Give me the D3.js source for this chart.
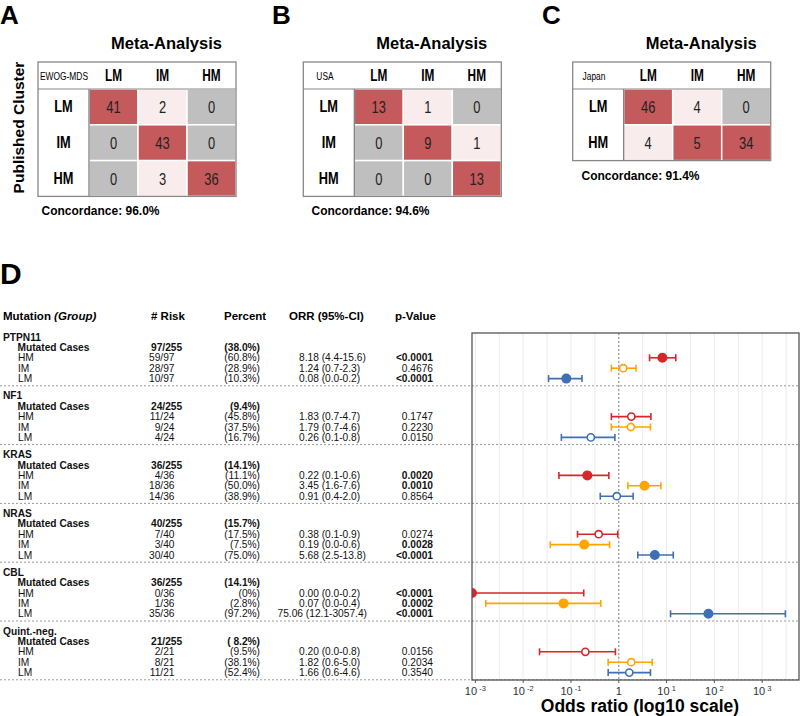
<!DOCTYPE html>
<html>
<head>
<meta charset="utf-8">
<script src="https://cdn.jsdelivr.net/npm/d3@7"></script>
<style>
  html, body { margin: 0; padding: 0; background: #fff; }
  svg { display: block; font-family: "Liberation Sans", Arial, sans-serif; }
</style>
</head>
<body>
<div id="chart"></div>
<script>
// ---- panels A-C : concordance matrices ----
const panelLetters = ['A', 'B', 'C'];
const cohorts = ['EWOG-MDS', 'USA', 'Japan'];
const metaCols = ['LM', 'IM', 'HM'];
const rowsA = ['LM', 'IM', 'HM'];
const countsA = [[41, 2, 0], [0, 43, 0], [0, 3, 36]];
const rowsB = ['LM', 'IM', 'HM'];
const countsB = [[13, 1, 0], [0, 9, 1], [0, 0, 13]];
const rowsC = ['LM', 'HM'];
const countsC = [[46, 4, 0], [4, 5, 34]];
const concordance = ['96.0%', '94.6%', '91.4%'];

// ---- panel D : forest plot table ----
const genes = ['PTPN11', 'NF1', 'KRAS', 'NRAS', 'CBL', 'Quint.-neg.'];
const mutatedRisk = ['97/255', '24/255', '36/255', '40/255', '36/255', '21/255'];
const mutatedPct = ['(38.0%)', '(9.4%)', '(14.1%)', '(15.7%)', '(14.1%)', '( 8.2%)'];
const groups = ['HM', 'IM', 'LM'];
const risk = [
  ['59/97', '28/97', '10/97'],
  ['11/24', '9/24', '4/24'],
  ['4/36', '18/36', '14/36'],
  ['7/40', '3/40', '30/40'],
  ['0/36', '1/36', '35/36'],
  ['2/21', '8/21', '11/21']
];
const pct = [
  ['(60.8%)', '(28.9%)', '(10.3%)'],
  ['(45.8%)', '(37.5%)', '(16.7%)'],
  ['(11.1%)', '(50.0%)', '(38.9%)'],
  ['(17.5%)', '(7.5%)', '(75.0%)'],
  ['(0%)', '(2.8%)', '(97.2%)'],
  ['(9.5%)', '(38.1%)', '(52.4%)']
];
const orrText = [
  ['8.18 (4.4-15.6)', '1.24 (0.7-2.3)', '0.08 (0.0-0.2)'],
  ['1.83 (0.7-4.7)', '1.79 (0.7-4.6)', '0.26 (0.1-0.8)'],
  ['0.22 (0.1-0.6)', '3.45 (1.6-7.6)', '0.91 (0.4-2.0)'],
  ['0.38 (0.1-0.9)', '0.19 (0.0-0.6)', '5.68 (2.5-13.8)'],
  ['0.00 (0.0-0.2)', '0.07 (0.0-0.4)', '75.06 (12.1-3057.4)'],
  ['0.20 (0.0-0.8)', '1.82 (0.6-5.0)', '1.66 (0.6-4.6)']
];
const pText = [
  ['<0.0001', '0.4676', '<0.0001'],
  ['0.1747', '0.2230', '0.0150'],
  ['0.0020', '0.0010', '0.8564'],
  ['0.0274', '0.0028', '<0.0001'],
  ['<0.0001', '0.0002', '<0.0001'],
  ['0.0156', '0.2034', '0.3540']
];
const pBold = [
  [true, false, true],
  [false, false, false],
  [true, true, false],
  [false, true, true],
  [true, true, true],
  [false, false, false]
];
// odds ratio and CI bounds as drawn
const orVal = [
  [8.18, 1.24, 0.08],
  [1.83, 1.79, 0.26],
  [0.22, 3.45, 0.91],
  [0.38, 0.19, 5.68],
  [0, 0.07, 75.06],
  [0.20, 1.82, 1.66]
];
const ciLo = [
  [4.4, 0.7, 0.034],
  [0.7, 0.7, 0.063],
  [0.056, 1.55, 0.41],
  [0.137, 0.037, 2.5],
  [0, 0.00165, 12.1],
  [0.022, 0.6, 0.6]
];
const ciHi = [
  [15.6, 2.3, 0.17],
  [4.7, 4.6, 0.83],
  [0.62, 7.6, 2.0],
  [0.95, 0.64, 13.8],
  [0.185, 0.42, 3057.4],
  [0.85, 5.0, 4.6]
];
const axisExp = [-3, -2, -1, 0, 1, 2, 3];

const width = 800, height = 716;
const svg = d3.select('#chart').append('svg')
  .attr('width', width).attr('height', height);

const RED = '#c45a5b', PINK = '#f8ecec', GRAY = '#bfbfbf';
const cellColor = d3.scaleThreshold().domain([1, 5]).range([GRAY, PINK, RED]);

// condensed text (no narrow font installed, so squeeze horizontally)
function narrow(sel, x, y, txt, size, weight, squeeze) {
  return sel.append('text')
    .attr('transform', `translate(${x},${y}) scale(${squeeze},1)`)
    .attr('text-anchor', 'middle')
    .attr('font-size', size)
    .attr('font-weight', weight)
    .text(txt);
}

// layout of the three matrices
const panelX = [38, 303.3, 572.7];
const letterX = [0, 272, 542];
const concX = [41.5, 311.5, 581.5];
const cohortX = [64, 325, 594];
const matrixRows = [rowsA, rowsB, rowsC];
const matrixCounts = [countsA, countsB, countsC];
const labelW = 51, cellW = 49, headerH = 27, rowH = 35.8, matTop = 62;

panelLetters.forEach((L, p) => {
  const x0 = panelX[p];
  const rows = matrixRows[p];
  const counts = matrixCounts[p];
  const g = svg.append('g');

  g.append('text').attr('x', letterX[p]).attr('y', 24)
    .attr('font-size', 26).attr('font-weight', 'bold').text(L);

  const xs = d3.scaleBand().domain(metaCols)
    .range([x0 + labelW, x0 + labelW + 3 * cellW]);
  const ys = d3.scaleBand().domain(rows)
    .range([matTop + headerH, matTop + headerH + rows.length * rowH]);
  const bottom = matTop + headerH + rows.length * rowH;

  g.append('text').attr('x', xs.range()[0] + 1.5 * cellW + 4).attr('y', 48.5)
    .attr('text-anchor', 'middle').attr('font-size', 16.5).attr('font-weight', 'bold')
    .text('Meta-Analysis');

  // cells
  rows.forEach((r, i) => {
    metaCols.forEach((c, j) => {
      const v = counts[i][j];
      g.append('rect').attr('x', xs(c)).attr('y', ys(r))
        .attr('width', xs.bandwidth()).attr('height', ys.bandwidth())
        .attr('fill', cellColor(v)).attr('stroke', '#fff').attr('stroke-width', 1.5);
      narrow(g, xs(c) + xs.bandwidth() / 2, ys(r) + ys.bandwidth() / 2 + 6, v, 17, 'normal', 0.76)
        .attr('fill', '#222');
    });
    narrow(g, x0 + labelW / 2, ys(r) + ys.bandwidth() / 2 + 5.5, r, 16, 'bold', 0.8);
  });

  // header
  metaCols.forEach(c => {
    narrow(g, xs(c) + xs.bandwidth() / 2, matTop + headerH / 2 + 5.5, c, 16, 'bold', 0.74);
  });
  narrow(g, cohortX[p], matTop + headerH / 2 + 4, cohorts[p], 10, 'normal', 0.84);

  // borders
  g.append('line').attr('x1', x0).attr('x2', x0 + labelW + 3 * cellW)
    .attr('y1', matTop + headerH).attr('y2', matTop + headerH)
    .attr('stroke', '#888').attr('stroke-width', 1.2);
  g.append('line').attr('x1', x0 + labelW).attr('x2', x0 + labelW)
    .attr('y1', matTop + headerH).attr('y2', bottom)
    .attr('stroke', '#777').attr('stroke-width', 1.2);
  g.append('rect').attr('x', x0).attr('y', matTop)
    .attr('width', labelW + 3 * cellW).attr('height', bottom - matTop)
    .attr('fill', 'none').attr('stroke', '#888').attr('stroke-width', 1.3);

  g.append('text').attr('x', concX[p]).attr('y', bottom + 19)
    .attr('font-size', 12).attr('font-weight', 'bold')
    .text('Concordance: ' + concordance[p]);
});

// y-axis label for matrix A
svg.append('text')
  .attr('transform', 'translate(24,127.5) rotate(-90)')
  .attr('text-anchor', 'middle').attr('font-size', 15.5).attr('font-weight', 'bold')
  .text('Published Cluster');

// ---- panel D ----
svg.append('text').attr('x', 0).attr('y', 284)
  .attr('font-size', 30).attr('font-weight', 'bold').text('D');

const hdr = svg.append('g').attr('font-size', 11.5).attr('font-weight', 'bold');
const hdrY = 320;
const mt = hdr.append('text').attr('x', 3).attr('y', hdrY);
mt.append('tspan').text('Mutation ');
mt.append('tspan').attr('font-style', 'italic').text('(Group)');
hdr.append('text').attr('x', 151).attr('y', hdrY).text('# Risk');
hdr.append('text').attr('x', 224).attr('y', hdrY).text('Percent');
hdr.append('text').attr('x', 289).attr('y', hdrY).text('ORR (95%-CI)');
hdr.append('text').attr('x', 395).attr('y', hdrY).text('p-Value');

const groupTop = 327, groupH = 58.8, lineH = 10.4;
const rowY = (g, k) => groupTop + g * groupH + 10 + k * lineH;

// forest plot geometry
const plotL = 472, plotR = 799, plotT = 333, plotB = 680;
const x = d3.scaleLog().domain([Math.pow(10, -3.07), Math.pow(10, 3.77)]).range([plotL, plotR]);
const colors = { HM: '#d7262b', IM: '#ffa500', LM: '#3f6fb5' };

// grid
const grid = svg.append('g');
d3.range(-3, 4, 0.5).forEach(e => {
  grid.append('line').attr('x1', x(Math.pow(10, e))).attr('x2', x(Math.pow(10, e)))
    .attr('y1', plotT).attr('y2', plotB)
    .attr('stroke', '#ececec').attr('stroke-width', 1);
});
grid.append('line').attr('x1', x(1)).attr('x2', x(1)).attr('y1', plotT).attr('y2', plotB)
  .attr('stroke', '#999').attr('stroke-width', 1.2).attr('stroke-dasharray', '2,2');

const tbl = svg.append('g').attr('font-size', 10.2).attr('fill', '#111');
genes.forEach((gene, g) => {
  const base = d => d + 3.6;
  tbl.append('text').attr('x', 3).attr('y', base(rowY(g, 0)))
    .attr('font-weight', 'bold').text(gene);
  tbl.append('text').attr('x', 17.5).attr('y', base(rowY(g, 1)))
    .attr('font-weight', 'bold').text('Mutated Cases');
  tbl.append('text').attr('x', 151).attr('y', base(rowY(g, 1)))
    .attr('font-weight', 'bold').text(mutatedRisk[g]);
  tbl.append('text').attr('x', 260).attr('y', base(rowY(g, 1)))
    .attr('text-anchor', 'end').attr('font-weight', 'bold')
    .style('white-space', 'pre').text(mutatedPct[g]);

  groups.forEach((grp, k) => {
    const yy = base(rowY(g, k + 2));
    tbl.append('text').attr('x', 18).attr('y', yy).text(grp);
    tbl.append('text').attr('x', 174.5).attr('y', yy).attr('text-anchor', 'end').text(risk[g][k]);
    tbl.append('text').attr('x', 260).attr('y', yy).attr('text-anchor', 'end').text(pct[g][k]);
    const o = tbl.append('text').attr('x', 299).attr('y', yy).text(orrText[g][k]);
    if (o.node().getComputedTextLength() > 75) {
      o.attr('x', 367).attr('text-anchor', 'end');
    }
    tbl.append('text').attr('x', 433).attr('y', yy).attr('text-anchor', 'end')
      .attr('font-weight', pBold[g][k] ? 'bold' : 'normal').text(pText[g][k]);
  });

  svg.append('line').attr('x1', 0).attr('x2', width)
    .attr('y1', groupTop + (g + 1) * groupH).attr('y2', groupTop + (g + 1) * groupH)
    .attr('stroke', '#999').attr('stroke-width', 1).attr('stroke-dasharray', '2,2');
});

// forest marks
svg.append('clipPath').attr('id', 'plotclip').append('rect')
  .attr('x', plotL).attr('y', plotT).attr('width', plotR - plotL).attr('height', plotB - plotT);
const marks = svg.append('g').attr('clip-path', 'url(#plotclip)');
const dmin = x.domain()[0];
const cx = v => x(Math.max(v, dmin));
genes.forEach((gene, g) => {
  groups.forEach((grp, k) => {
    const yy = rowY(g, k + 2);
    const col = colors[grp];
    const lo = cx(ciLo[g][k]), hi = cx(ciHi[g][k]);
    marks.append('line').attr('x1', lo).attr('x2', hi).attr('y1', yy).attr('y2', yy)
      .attr('stroke', col).attr('stroke-width', 1.6);
    [lo, hi].forEach(xx => {
      marks.append('line').attr('x1', xx).attr('x2', xx).attr('y1', yy - 3.5).attr('y2', yy + 3.5)
        .attr('stroke', col).attr('stroke-width', 1.6);
    });
    const filled = pBold[g][k];
    marks.append('circle').attr('cx', cx(orVal[g][k])).attr('cy', yy)
      .attr('r', filled ? 4.2 : 3.6)
      .attr('fill', filled ? col : '#fff')
      .attr('stroke', col).attr('stroke-width', 1.6);
  });
});

// plot frame
svg.append('rect').attr('x', plotL).attr('y', plotT)
  .attr('width', plotR - plotL).attr('height', plotB - plotT)
  .attr('fill', 'none').attr('stroke', '#555').attr('stroke-width', 1.3);

// x axis
const ax = svg.append('g').attr('font-size', 11).attr('fill', '#333');
axisExp.forEach(e => {
  const xx = x(Math.pow(10, e));
  ax.append('line').attr('x1', xx).attr('x2', xx).attr('y1', plotB).attr('y2', plotB + 3)
    .attr('stroke', '#555').attr('stroke-width', 1);
  const t = ax.append('text').attr('x', xx).attr('y', 695).attr('text-anchor', 'middle');
  if (e === 0) {
    t.text('1');
  } else {
    t.append('tspan').text('10');
    t.append('tspan').attr('dy', -4).attr('font-size', 7.5).text(' ' + e);
  }
});
svg.append('text').attr('x', 640).attr('y', 712)
  .attr('text-anchor', 'middle').attr('font-size', 17.5).attr('font-weight', 'bold')
  .text('Odds ratio (log10 scale)');
</script>
</body>
</html>
